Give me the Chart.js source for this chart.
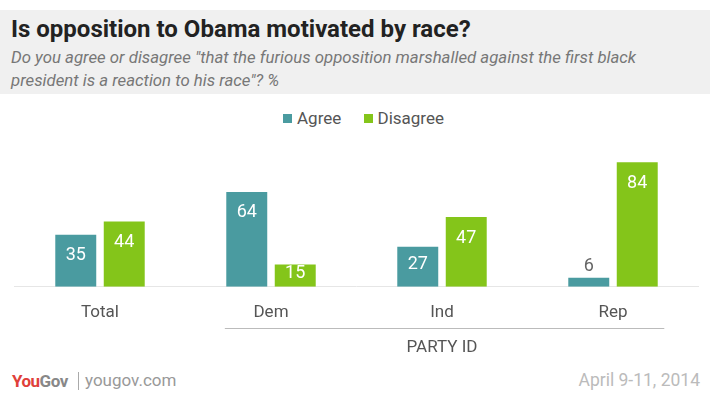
<!DOCTYPE html>
<html>
<head>
<meta charset="utf-8">
<script src="https://cdn.jsdelivr.net/npm/chart.js@4.4.1/dist/chart.umd.min.js"></script>
<style>
  html, body { margin: 0; padding: 0; background: #fff; }
  body { width: 710px; height: 399px; position: relative; overflow: hidden;
         font-family: Roboto, "DejaVu Sans Condensed", sans-serif; }
  .header { position: absolute; left: 0; top: 10px; width: 710px; height: 84px; background: #f0f0f0; }
  .title { position: absolute; left: 11px; top: 5px; font-size: 24px; font-weight: bold; color: #222; white-space: nowrap; }
  .subtitle { position: absolute; left: 11px; top: 36px; font-size: 16.8px; font-style: italic; color: #777; line-height: 23px; white-space: nowrap; }
  .legend { position: absolute; top: 108px; left: 283px; font-size: 17px; color: #555; white-space: nowrap; }
  .legend span.sw { display: inline-block; width: 9px; height: 9px; margin-right: 5px; vertical-align: 1px; }
  .legend .item { margin-right: 18px; }
  .footer-logo { position: absolute; left: 12px; top: 371px; font-size: 17px; font-weight: bold; letter-spacing: -0.5px; }
  .footer-logo .you { color: #e0403a; }
  .footer-logo .gov { color: #888; }
  .sep { position: absolute; left: 78px; top: 372px; width: 1px; height: 18px; background: #aaa; }
  .site { position: absolute; left: 85px; top: 370px; font-size: 17px; color: #999; }
  .date { position: absolute; right: 10px; top: 370px; font-size: 17.5px; color: #bbb; }
  #chart { position: absolute; left: 0; top: 0; }
</style>
</head>
<body>
<div class="header">
  <div class="title">Is opposition to Obama motivated by race?</div>
  <div class="subtitle">Do you agree or disagree "that the furious opposition marshalled against the first black<br>president is a reaction to his race"? %</div>
</div>
<div class="legend">
  <span class="item"><span class="sw" style="background:#4a9ba0"></span>Agree</span>
  <span class="item"><span class="sw" style="background:#84c51a"></span>Disagree</span>
</div>
<div class="footer-logo"><span class="you">You</span><span class="gov">Gov</span></div>
<div class="sep"></div>
<div class="site">yougov.com</div>
<div class="date">April 9-11, 2014</div>
<canvas id="chart" width="710" height="399"></canvas>
<script>
const categories = ["Total", "Dem", "Ind", "Rep"];
const agree = [35, 64, 27, 6];
const disagree = [44, 15, 47, 84];
const seriesNames = ["Agree", "Disagree"];
const groupLabel = "PARTY ID";

const TEAL = "#4a9ba0";
const GREEN = "#84c51a";
const FONT = 'Roboto, "DejaVu Sans Condensed", sans-serif';

// value labels inside the bar top (or above when the bar is too short)
const valueLabels = {
  id: "valueLabels",
  afterDatasetsDraw(chart) {
    const ctx = chart.ctx;
    ctx.save();
    ctx.font = "18px " + FONT;
    ctx.textAlign = "center";
    ctx.textBaseline = "middle";
    chart.data.datasets.forEach((ds, di) => {
      chart.getDatasetMeta(di).data.forEach((bar, i) => {
        const h = bar.base - bar.y;
        let y;
        if (h < 15) {
          ctx.fillStyle = "#666";
          y = bar.y - 11;
        } else {
          ctx.fillStyle = "#fff";
          y = bar.y + Math.min(21, h / 2 - 2);
        }
        ctx.fillText(String(ds.data[i]), bar.x, y);
      });
    });
    ctx.restore();
  },
};

// grouping line + label under the party categories
const groupBracket = {
  id: "groupBracket",
  afterDraw(chart) {
    const x = chart.scales.x;
    const cw = x.getPixelForValue(1) - x.getPixelForValue(0);
    const left = x.getPixelForValue(1) - 0.27 * cw;
    const right = x.getPixelForValue(3) + 0.3 * cw;
    const ctx = chart.ctx;
    ctx.save();
    ctx.strokeStyle = "#bbb";
    ctx.lineWidth = 1;
    ctx.beginPath();
    ctx.moveTo(left, 328.5);
    ctx.lineTo(right, 328.5);
    ctx.stroke();
    ctx.fillStyle = "#555";
    ctx.font = "17px " + FONT;
    ctx.textAlign = "center";
    ctx.textBaseline = "middle";
    ctx.fillText(groupLabel, x.getPixelForValue(2), 347.5);
    ctx.restore();
  },
};

new Chart(document.getElementById("chart"), {
  type: "bar",
  data: {
    labels: categories,
    datasets: [
      { label: seriesNames[0], data: agree, backgroundColor: TEAL },
      { label: seriesNames[1], data: disagree, backgroundColor: GREEN },
    ],
  },
  options: {
    responsive: false,
    animation: false,
    events: [],
    layout: { padding: { left: 14.5, right: 11.5, top: 138.6, bottom: 0 } },
    datasets: { bar: { barPercentage: 0.845, categoryPercentage: 0.567 } },
    plugins: { legend: { display: false }, tooltip: { enabled: false } },
    scales: {
      x: {
        grid: { display: false, drawTicks: false },
        border: { display: true, color: "#e6e6e6" },
        ticks: { color: "#555", font: { family: FONT, size: 17 }, padding: 15.6 },
        afterFit(scale) { scale.height = 112.3; },
      },
      y: { display: false, min: 0, max: 100 },
    },
  },
  plugins: [valueLabels, groupBracket],
});
</script>
</body>
</html>
